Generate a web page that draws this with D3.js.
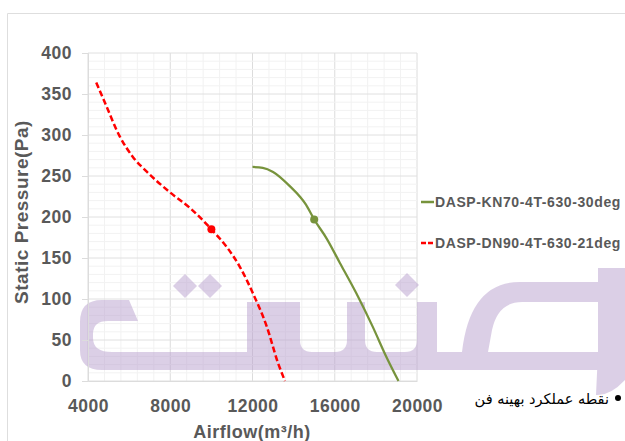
<!DOCTYPE html>
<html>
<head>
<meta charset="utf-8">
<script src="https://cdn.jsdelivr.net/npm/d3@7"></script>
<style>
  body { margin: 0; background: #fff; }
  text { font-family: "Liberation Sans", Arial, sans-serif; }
</style>
</head>
<body>
<svg id="chart" width="625" height="441"></svg>
<script>
// data
const seriesNames = ["DASP-KN70-4T-630-30deg", "DASP-DN90-4T-630-21deg"];
const kn70Airflow = [12000, 12500, 13000, 13800, 14600, 15000, 15600, 16250, 17050, 17850, 18500, 19100];
const kn70Pressure = [261, 260, 255, 238, 215, 197, 174, 144, 107, 66, 30, 0];
const dn90Airflow = [4400, 4830, 5550, 6190, 6870, 7990, 8960, 10000, 10760, 11390, 12020, 12700, 13240, 13580];
const dn90Pressure = [364, 339, 298, 273, 255, 230, 211, 185, 163, 139, 107, 66, 22, 0];
const bestPoints = [[15000, 197], [10000, 185]];
const xTicks = [4000, 8000, 12000, 16000, 20000];
const yTicks = [0, 50, 100, 150, 200, 250, 300, 350, 400];
const bestLabel = "نقطه عملکرد بهینه فن";

const svg = d3.select("#chart");
const grey = "#595959";

const x = d3.scaleLinear().domain([4000, 20000]).range([88, 417]);
const y = d3.scaleLinear().domain([0, 400]).range([381, 53]);

// chart border
svg.append("path")
  .attr("d", "M7.5,441V13.5H625")
  .attr("fill", "none")
  .attr("stroke", "#dedede");

// gridlines (minor then major)
const grid = svg.append("g");
d3.range(4000, 20001, 800).forEach(v => {
  grid.append("line")
    .attr("x1", x(v)).attr("x2", x(v)).attr("y1", y(0)).attr("y2", y(400))
    .attr("stroke", v % 4000 === 0 ? "#dcdcdc" : "#f2f2f2");
});
d3.range(0, 401, 10).forEach(v => {
  grid.append("line")
    .attr("x1", x(4000)).attr("x2", x(20000)).attr("y1", y(v)).attr("y2", y(v))
    .attr("stroke", v % 50 === 0 ? "#e0e0e0" : "#f2f2f2");
});

// watermark logo (decoration)
const wm = svg.append("g").attr("opacity", 0.5).attr("fill", "rgb(185,160,207)");
wm.append("path").attr("d",
  "M138,321 L129,300 L102,300 Q80,300 80,322 L80,350 Q80,370 102,370 L600,370 L600,352 L112,352 Q93,352 93,338 L93,334 Q93,321 108,321 Z");
wm.append("path").attr("d", "M247,302 L300,302 L300,340 Q300,352 312,352 L247,357 Z");
wm.append("path").attr("d", "M335,352 Q347,352 347,340 L347,302 L365,302 L365,340 Q365,352 377,352 Z");
wm.append("path").attr("d", "M405,352 Q417,352 417,340 L417,302 L437,302 L437,357 Z");
wm.append("path").attr("d",
  "M520,282 L600,282 L600,302 L522,302 Q498,302 492,330 L488,352 L462,352 Q470,282 520,282 Z");
wm.append("path").attr("d", "M598,268 L625,268 L625,380 Q610,396 596,395 L598,352 Z");
[[185, 286], [210, 286], [407, 285]].forEach(([cx, cy]) => {
  wm.append("path").attr("d", `M${cx},${cy - 12}L${cx + 12},${cy}L${cx},${cy + 12}L${cx - 12},${cy}Z`);
});

// axes
const xAxis = svg.append("g")
  .attr("transform", `translate(0,${y(0)})`)
  .call(d3.axisBottom(x).tickValues(xTicks).tickFormat(d3.format("d")).tickSize(0).tickPadding(19));
const yAxis = svg.append("g")
  .attr("transform", `translate(${x(4000)},0)`)
  .call(d3.axisLeft(y).tickValues(yTicks).tickSize(6).tickPadding(10));
[xAxis, yAxis].forEach(a => {
  a.select(".domain").attr("stroke", "#dcdcdc");
  a.selectAll(".tick line").attr("stroke", "#dcdcdc");
  a.selectAll(".tick text")
    .attr("fill", grey)
    .style("font-family", "'Liberation Sans', Arial, sans-serif")
    .style("font-size", "17.5px")
    .style("font-weight", "bold")
    .style("letter-spacing", "0.5px");
});

svg.append("text")
  .attr("x", 252).attr("y", 438)
  .attr("text-anchor", "middle")
  .attr("fill", grey)
  .style("font-size", "18px").style("font-weight", "bold").style("letter-spacing", "0.5px")
  .text("Airflow(m³/h)");
svg.append("text")
  .attr("transform", "translate(28,212) rotate(-90)")
  .attr("text-anchor", "middle")
  .attr("fill", grey)
  .style("font-size", "19px").style("font-weight", "bold").style("letter-spacing", "0.5px")
  .text("Static Pressure(Pa)");

// curves
const line = d3.line()
  .x(d => x(d[0]))
  .y(d => y(d[1]))
  .curve(d3.curveMonotoneX);

svg.append("path")
  .datum(kn70Airflow.map((v, i) => [v, kn70Pressure[i]]))
  .attr("d", line)
  .attr("fill", "none")
  .attr("stroke", "#77933c")
  .attr("stroke-width", 2.25);

svg.append("path")
  .datum(dn90Airflow.map((v, i) => [v, dn90Pressure[i]]))
  .attr("d", line)
  .attr("fill", "none")
  .attr("stroke", "#ff0000")
  .attr("stroke-width", 2.5)
  .attr("stroke-dasharray", "6,3");

svg.selectAll("circle.best")
  .data(bestPoints)
  .enter()
  .append("circle")
  .attr("class", "best")
  .attr("cx", d => x(d[0]))
  .attr("cy", d => y(d[1]))
  .attr("r", 4)
  .attr("fill", (d, i) => i === 0 ? "#77933c" : "#ff0000");

// legend
const legend = svg.append("g");
seriesNames.forEach((name, i) => {
  const ly = 202 + i * 41;
  legend.append("line")
    .attr("x1", 421).attr("x2", 434).attr("y1", ly).attr("y2", ly)
    .attr("stroke", i === 0 ? "#77933c" : "#ff0000")
    .attr("stroke-width", 2.5)
    .attr("stroke-dasharray", i === 0 ? null : "5,2");
  legend.append("text")
    .attr("x", 435).attr("y", ly + 5)
    .attr("fill", grey)
    .style("font-size", "14px").style("font-weight", "bold").style("letter-spacing", "0.6px")
    .text(name);
});

svg.append("circle").attr("cx", 618).attr("cy", 398).attr("r", 3).attr("fill", "#000");
svg.append("text")
  .attr("x", 609).attr("y", 404)
  .attr("text-anchor", "end")
  .attr("fill", "#000")
  .style("font-family", "'DejaVu Sans', sans-serif")
  .style("font-size", "14.5px")
  .text(bestLabel);
</script>
</body>
</html>
